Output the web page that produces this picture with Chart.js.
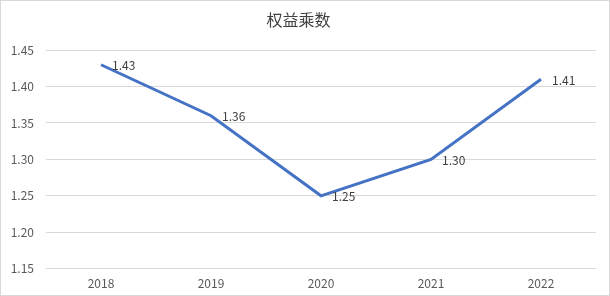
<!DOCTYPE html>
<html>
<head>
<meta charset="utf-8">
<script src="https://cdn.jsdelivr.net/npm/chart.js@4"></script>
<style>
  body { margin: 0; background: #fff; }
  #wrap { width: 608px; height: 294px; border: 1px solid #d9d9d9; }
</style>
</head>
<body>
<div id="wrap"><canvas id="myChart" width="608" height="294"></canvas></div>
<script>
const years = ['2018', '2019', '2020', '2021', '2022'];
const multiplier = [1.43, 1.36, 1.25, 1.30, 1.41];
const yTicks = [1.15, 1.20, 1.25, 1.30, 1.35, 1.40, 1.45];

const fontFamily = '"Noto Sans CJK SC", "Noto Sans", sans-serif';

// write each value to the right of its point
const pointLabels = {
    id: 'pointLabels',
    afterDatasetsDraw(chart) {
        const ctx = chart.ctx;
        const meta = chart.getDatasetMeta(0);
        ctx.save();
        ctx.font = '12px ' + fontFamily;
        ctx.fillStyle = '#404040';
        ctx.textAlign = 'left';
        ctx.textBaseline = 'middle';
        meta.data.forEach((pt, i) => {
            ctx.fillText(multiplier[i].toFixed(2), pt.x + 11, pt.y + 1);
        });
        ctx.restore();
    }
};

const ctx = document.getElementById('myChart').getContext('2d');
new Chart(ctx, {
    type: 'line',
    data: {
        labels: years,
        datasets: [{
            label: '权益乘数',
            data: multiplier,
            borderColor: '#4472c4',
            borderWidth: 3,
            pointRadius: 0,
            tension: 0,
            fill: false
        }]
    },
    options: {
        responsive: false,
        animation: false,
        layout: { padding: { top: 9, right: 13, bottom: 4, left: 0 } },
        plugins: {
            legend: { display: false },
            tooltip: { enabled: false },
            title: {
                display: true,
                text: '权益乘数',
                color: '#404040',
                font: { family: fontFamily, size: 16, weight: 'normal' },
                padding: { top: 0, bottom: 21 }
            }
        },
        scales: {
            x: {
                offset: true,
                grid: { display: false },
                border: { display: false },
                ticks: { color: '#595959', font: { family: fontFamily, size: 12 }, padding: 0 }
            },
            y: {
                min: 1.15,
                max: 1.45,
                afterFit: s => { s.width = 45; },
                afterBuildTicks: s => { s.ticks = yTicks.map(v => ({ value: v })); },
                grid: { color: '#d9d9d9', drawTicks: false },
                border: { display: false },
                ticks: {
                    color: '#595959',
                    font: { family: fontFamily, size: 12 },
                    padding: 12,
                    callback: v => v.toFixed(2)
                }
            }
        }
    },
    plugins: [pointLabels]
});
</script>
</body>
</html>
